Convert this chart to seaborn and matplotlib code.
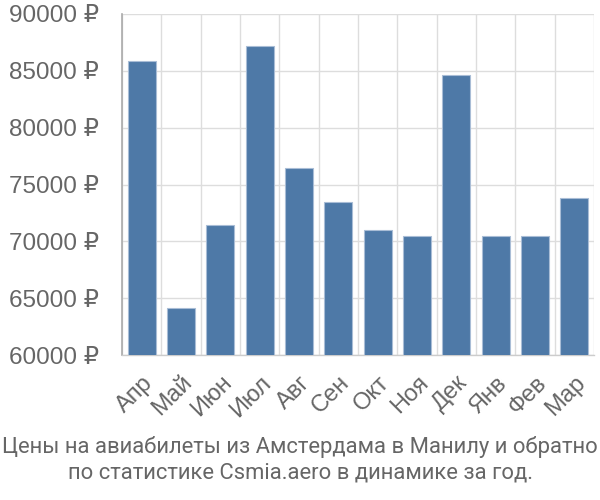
import matplotlib
matplotlib.use("Agg")
import matplotlib.pyplot as plt
import seaborn as sns
import pandas as pd
import numpy as np

months = ["Апр", "Май", "Июн", "Июл", "Авг", "Сен", "Окт", "Ноя", "Дек", "Янв", "Фев", "Мар"]
prices = [85900, 64100, 71430, 87210, 76480, 73480, 71020, 70490, 84610, 70490, 70490, 73820]
yticks = [60000, 65000, 70000, 75000, 80000, 85000, 90000]
title_lines = ["Цены на авиабилеты из Амстердама в Манилу и обратно",
               "по статистике Csmia.aero в динамике за год."]

sns.set_style("white")
plt.rcParams['font.family'] = ['Liberation Sans', 'DejaVu Sans']

df = pd.DataFrame({"month": months, "price": prices})

fig = plt.figure(figsize=(6, 5), dpi=100)
ax = fig.add_axes([122/600, 1-355/500, (594-122)/600, (355-14)/500])

sns.barplot(data=df, x="month", y="price", color="#4e79a7", saturation=1,
            width=0.72, edgecolor="#a9bdd6", linewidth=0.8, ax=ax, zorder=3)

ax.set_ylim(60000, 90000)
ax.set_xlim(-0.5, len(months) - 0.5)
ax.set_yticks(yticks)
ax.set_yticklabels([f"{v} ₽" for v in yticks])
ax.set_xticks(np.arange(-0.5, len(months), 1.0), minor=True)
ax.set_xticks(range(len(months)))
ax.set_xticklabels(months, rotation=45, ha="right", rotation_mode="anchor")

ax.grid(True, axis="y", color="#dddddd", linewidth=1, zorder=0)
ax.grid(True, axis="x", which="minor", color="#dddddd", linewidth=1, zorder=0)
ax.grid(False, axis="x", which="major")

ax.tick_params(axis="y", length=15, color="#dddddd", width=1, labelsize=17.5, labelcolor="#666666", pad=1.5)
ax.tick_params(axis="x", which="major", length=0, labelsize=17, labelcolor="#666666", pad=12)
ax.tick_params(axis="x", which="minor", length=13.5, color="#dddddd", width=1)

for s in ["top", "right"]:
    ax.spines[s].set_visible(False)
ax.spines["left"].set_color("#aaaaaa")
ax.spines["left"].set_linewidth(1.2)
ax.spines["bottom"].set_color("#cccccc")
ax.spines["bottom"].set_linewidth(1)
ax.set_xlabel("")
ax.set_ylabel("")

for i, line in enumerate(title_lines):
    fig.text(0.5, 1-(447+26*i)/500, line, ha="center", va="center", fontsize=15.8,
             color="#666666", family=["Roboto", "DejaVu Sans"])

fig.savefig("out.png", dpi=100)
